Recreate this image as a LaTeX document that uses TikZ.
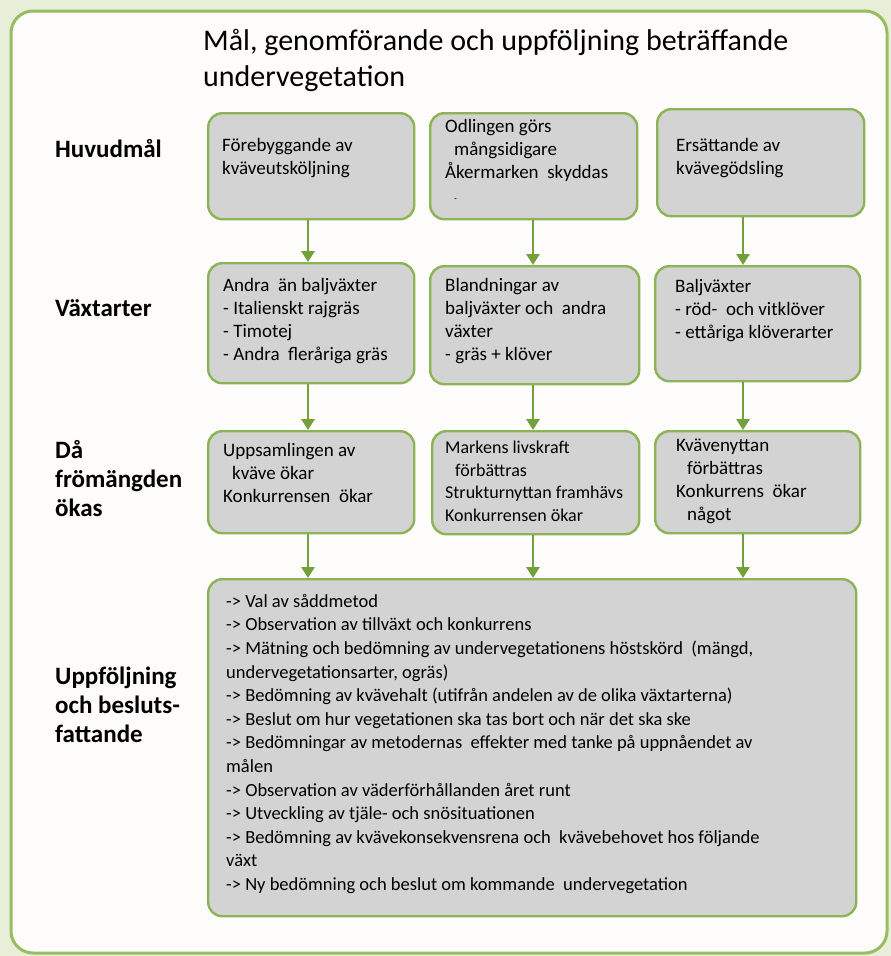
\documentclass[tikz,border=0pt]{standalone}
\usepackage{fontspec}
\setmainfont{Carlito}
\usetikzlibrary{arrows.meta}

\definecolor{framegreen}{RGB}{152,188,98}
\definecolor{boxgreen}{RGB}{140,179,86}
\definecolor{arrowgreen}{RGB}{116,160,58}
\definecolor{boxgrey}{RGB}{211,211,211}
\definecolor{paper}{RGB}{253,252,250}
\definecolor{outside}{RGB}{233,238,216}

\tikzset{
  box/.style={draw=boxgreen, fill=boxgrey, line width=2.4pt, rounded corners=14pt,
    anchor=north west, inner sep=0pt},
  boxtext/.style={anchor=north west, inner sep=0pt, align=left,
    font=\fontsize{19}{23}\selectfont},
  rowlabel/.style={anchor=north west, inner sep=0pt, align=left,
    font=\fontsize{25}{29}\selectfont\bfseries},
  flow/.style={draw=arrowgreen, line width=2.8pt, -{Triangle[width=13pt,length=11pt]}},
}

\begin{document}
\begin{tikzpicture}[x=1pt,y=-1pt]
\fill [outside] (0,0) rectangle (891,956);
\useasboundingbox (0,0) rectangle (891,956);
\draw [framegreen, fill=paper, line width=3pt, rounded corners=22pt] (11,11) rectangle (887,953);

\node [anchor=north west, inner sep=0pt, align=left, font=\fontsize{30}{36}\selectfont] (title) at (203,29)
  {Mål, genomförande och uppföljning beträffande\\undervegetation};

% labels on the left
\node [rowlabel] (lhuvud) at (55,139) {Huvudmål};
\node [rowlabel] (lvaxt) at (55,299) {Växtarter};
\node [rowlabel] (lfro) at (55,440) {Då\\frömängden\\ökas};
\node [rowlabel] (lupp) at (55,667) {Uppföljning\\och besluts-\\fattande};

% boxes
\node [box, minimum width=206pt, minimum height=106pt] (r1c1) at (207,112) {};
\node [box, minimum width=207pt, minimum height=106pt] (r1c2) at (429,112) {};
\node [box, minimum width=207pt, minimum height=107pt] (r1c3) at (656,108) {};

\node [box, minimum width=206pt, minimum height=120pt] (r2c1) at (207,262) {};
\node [box, minimum width=209pt, minimum height=118pt] (r2c2) at (429,265) {};
\node [box, minimum width=205pt, minimum height=115pt] (r2c3) at (654,265) {};

\node [box, minimum width=206pt, minimum height=102pt] (r3c1) at (207,430) {};
\node [box, minimum width=207pt, minimum height=103pt] (r3c2) at (431,430) {};
\node [box, minimum width=205pt, minimum height=102pt] (r3c3) at (654,430) {};

\node [box, minimum width=648pt, minimum height=337pt] (big) at (207,578) {};

% texts
\node [boxtext] (t11) at (222,138) {Förebyggande av\\kväveutsköljning};
\node [boxtext] (t12) at (445,119) {Odlingen görs\\\hspace*{9pt}mångsidigare\\Åkermarken~ skyddas\\\hspace*{9pt}{\small -}};
\node [boxtext] (t13) at (676,138) {Ersättande av\\kvävegödsling};

\node [boxtext] (t21) at (223,278) {Andra~ än baljväxter\\- Italienskt rajgräs\\- Timotej\\- Andra~ fleråriga gräs};
\node [boxtext] (t22) at (445,278) {Blandningar av\\baljväxter och~ andra\\växter\\- gräs + klöver};
\node [boxtext] (t23) at (675,279) {Baljväxter\\- röd-~ och vitklöver\\- ettåriga klöverarter};

\node [boxtext] (t31) at (223,443) {Uppsamlingen av\\\hspace*{9pt}kväve ökar\\Konkurrensen~ ökar};
\node [boxtext, font=\fontsize{18}{22.5}\selectfont] (t32) at (445,441)
  {Markens livskraft\\\hspace*{10pt}förbättras\\Strukturnyttan framhävs\\Konkurrensen ökar};
\node [boxtext] (t33) at (676,439) {Kvävenyttan\\\hspace*{11pt}förbättras\\Konkurrens~ ökar\\\hspace*{11pt}något};

\node [boxtext, font=\fontsize{18.5}{23.6}\selectfont] (tbig) at (226,594)
  {-> Val av såddmetod\\
   -> Observation av tillväxt och konkurrens\\
   -> Mätning och bedömning av undervegetationens höstskörd~ (mängd,\\
   undervegetationsarter, ogräs)\\
   -> Bedömning av kvävehalt (utifrån andelen av de olika växtarterna)\\
   -> Beslut om hur vegetationen ska tas bort och när det ska ske\\
   -> Bedömningar av metodernas~ effekter med tanke på uppnåendet av\\
   målen\\
   -> Observation av väderförhållanden året runt\\
   -> Utveckling av tjäle- och snösituationen\\
   -> Bedömning av kvävekonsekvensrena och~ kvävebehovet hos följande\\
   växt\\
   -> Ny bedömning och beslut om kommande~ undervegetation};

% arrows
\coordinate (c1) at (308,0);
\coordinate (c2) at (533,0);
\coordinate (c3) at (743,0);
\draw [flow] (r1c1.south -| c1) -- (r2c1.north -| c1);
\draw [flow] (r1c2.south -| c2) -- (r2c2.north -| c2);
\draw [flow] (r1c3.south -| c3) -- (r2c3.north -| c3);
\draw [flow] (r2c1.south -| c1) -- (r3c1.north -| c1);
\draw [flow] (r2c2.south -| c2) -- (r3c2.north -| c2);
\draw [flow] (r2c3.south -| c3) -- (r3c3.north -| c3);
\draw [flow] (r3c1.south -| c1) -- (big.north -| c1);
\draw [flow] (r3c2.south -| c2) -- (big.north -| c2);
\draw [flow] (r3c3.south -| c3) -- (big.north -| c3);
\end{tikzpicture}
\end{document}
